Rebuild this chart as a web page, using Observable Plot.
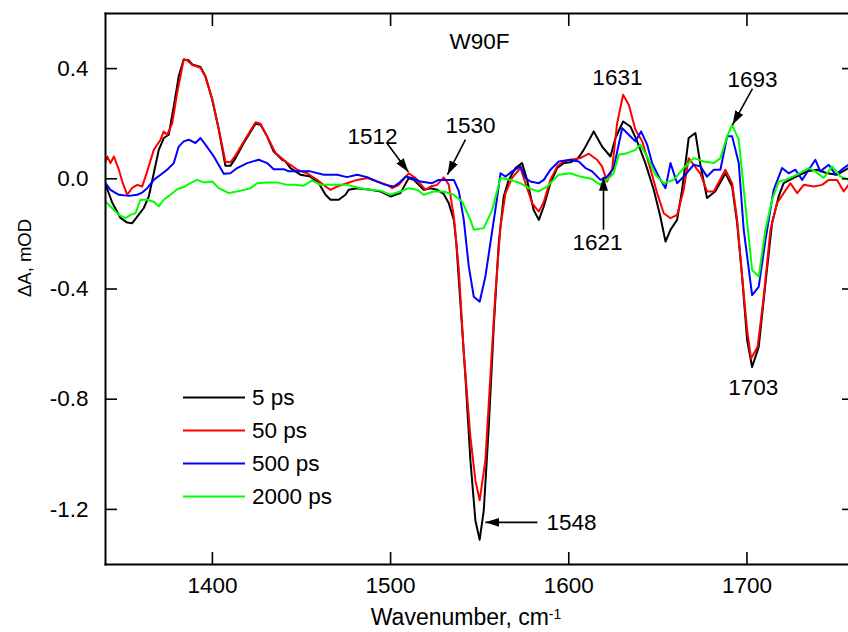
<!DOCTYPE html>
<html><head><meta charset="utf-8">
<script src="https://cdn.jsdelivr.net/npm/d3@7"></script>
<script src="https://cdn.jsdelivr.net/npm/@observablehq/plot@0.6"></script>
<style>
body{margin:0;background:#fff;overflow:hidden}
#wrap{position:relative;width:848px;height:632px;font-family:"Liberation Sans",Arial,sans-serif}
#legend{position:absolute;left:183px;top:381px}
</style></head><body><div id="wrap"></div>
<script>
// ---- data (wavenumber cm-1, ΔA mOD) ----
const ps5 = [[1340,-0.02],[1343.8,-0.087],[1348.4,-0.142],[1352.2,-0.159],[1355,-0.161],[1357.8,-0.137],[1361.5,-0.106],[1364.3,-0.064],[1367.1,0.02],[1369.9,0.105],[1372.7,0.148],[1375.5,0.16],[1378.3,0.263],[1381.1,0.372],[1383.9,0.433],[1386.7,0.43],[1388.7,0.415],[1393.3,0.406],[1396.1,0.372],[1399.9,0.287],[1403.6,0.178],[1407.3,0.047],[1410.1,0.047],[1413,0.075],[1417.6,0.13],[1424.2,0.2],[1427,0.196],[1430.7,0.154],[1434.4,0.099],[1439.2,0.069],[1441,0.063],[1443.8,0.039],[1449.4,0.015],[1455,0.008],[1459.7,-0.016],[1463.5,-0.058],[1466.3,-0.076],[1470.9,-0.076],[1474.7,-0.058],[1476.5,-0.04],[1481.2,-0.034],[1488.7,-0.04],[1494.3,-0.046],[1499.9,-0.064],[1505.5,-0.052],[1510.2,0.003],[1513,-0.004],[1518.6,-0.04],[1522.4,-0.034],[1526.1,-0.04],[1529.8,-0.055],[1532.6,-0.088],[1535.5,-0.149],[1536.9,-0.234],[1539.2,-0.452],[1542,-0.719],[1544.8,-1.022],[1547.6,-1.24],[1550,-1.31],[1552.3,-1.204],[1555.1,-0.9],[1557.9,-0.537],[1560.7,-0.234],[1563.5,-0.064],[1566.3,-0.004],[1570.1,0.039],[1573.8,0.057],[1576.6,-0.004],[1580.3,-0.113],[1583.2,-0.149],[1586,-0.1],[1589.7,-0.016],[1593.5,0.039],[1597.2,0.057],[1601,0.06],[1605.3,0.075],[1608.4,0.105],[1614,0.172],[1618.7,0.117],[1623.4,0.081],[1626.2,0.148],[1630.5,0.208],[1634.6,0.19],[1638.4,0.136],[1643,0.057],[1647.7,-0.04],[1651.4,-0.137],[1654.3,-0.228],[1657.1,-0.185],[1660.8,-0.149],[1663.6,-0.04],[1667.3,0.148],[1671.1,0.166],[1673.9,0.05],[1677.6,-0.07],[1682.3,-0.045],[1687.9,0.02],[1691.7,-0.028],[1694.5,-0.161],[1697.3,-0.355],[1700.1,-0.585],[1702.9,-0.683],[1706.6,-0.61],[1710.4,-0.379],[1714.1,-0.161],[1717.8,-0.064],[1720.6,-0.016],[1726.2,0.003],[1733.8,0.027],[1739.4,0.033],[1745,0.02],[1750.6,0.015],[1757,0.039]];

const ps50 = [[1340,0.063],[1341,0.081],[1342.8,0.057],[1344.7,0.081],[1347.5,0.033],[1349.4,-0.01],[1352.2,-0.058],[1355,-0.033],[1357.8,-0.022],[1360.6,-0.028],[1363.4,0.027],[1367.1,0.105],[1370.9,0.142],[1372.7,0.172],[1374.6,0.16],[1377.4,0.2],[1380.2,0.31],[1383.9,0.433],[1385.8,0.43],[1388.7,0.413],[1393.3,0.403],[1396.1,0.37],[1399.9,0.29],[1403.6,0.18],[1407.3,0.062],[1410.1,0.06],[1413,0.085],[1417.6,0.135],[1424.2,0.205],[1427,0.2],[1430.7,0.155],[1435.4,0.094],[1442,0.058],[1443.8,0.051],[1447.6,0.033],[1453.2,0.02],[1458.8,-0.004],[1463.5,-0.028],[1466.3,-0.04],[1470,-0.028],[1475.6,-0.016],[1481.2,-0.004],[1486.9,0.003],[1492.5,-0.01],[1498.1,-0.022],[1500.9,-0.034],[1504.6,-0.022],[1510.2,0.02],[1514,0.003],[1519.6,-0.04],[1522.4,-0.028],[1526.1,-0.022],[1529.8,0.005],[1532.6,-0.02],[1535.5,-0.137],[1538.3,-0.33],[1541.1,-0.634],[1544.8,-0.937],[1547.6,-1.095],[1550,-1.167],[1553.2,-1.022],[1556,-0.719],[1558.8,-0.416],[1561.7,-0.173],[1564.5,-0.052],[1568.2,0.003],[1572.9,0.039],[1575.7,-0.016],[1579.4,-0.088],[1583.2,-0.119],[1586,-0.083],[1589.7,-0.004],[1593.5,0.045],[1597.2,0.063],[1600.9,0.069],[1606.5,0.075],[1611.2,0.091],[1615.9,0.069],[1618.7,0.045],[1621.5,-0.01],[1624.3,0.033],[1627.1,0.2],[1630.5,0.305],[1633.7,0.269],[1637.4,0.178],[1641.2,0.136],[1644.9,0.057],[1649.6,-0.052],[1653.3,-0.125],[1657.1,-0.143],[1660.8,-0.131],[1664.5,-0.04],[1667.3,0.075],[1670.1,0.051],[1673.9,0.018],[1677.6,-0.046],[1681.4,-0.046],[1687.9,0.033],[1691.7,-0.016],[1694.5,-0.149],[1697.3,-0.355],[1700.1,-0.549],[1702.3,-0.652],[1706,-0.61],[1709.4,-0.428],[1713.2,-0.185],[1716.9,-0.088],[1720.6,-0.052],[1724.4,-0.016],[1728.2,-0.052],[1731.9,-0.022],[1737.5,-0.028],[1742.2,-0.022],[1745.9,-0.004],[1750.6,-0.004],[1754.3,-0.046],[1757,-0.022]];

const ps500 = [[1340,-0.016],[1342.8,-0.04],[1347.5,-0.058],[1353.1,-0.062],[1357.8,-0.058],[1360.6,-0.05],[1363.4,-0.034],[1367.1,-0.004],[1370.9,0.015],[1374.6,0.033],[1378.3,0.057],[1381.1,0.117],[1383.9,0.136],[1386.7,0.142],[1390.5,0.13],[1393.3,0.148],[1396.1,0.124],[1400.8,0.081],[1406.4,0.018],[1410.1,0.02],[1413.9,0.039],[1419.5,0.057],[1426,0.069],[1430.7,0.057],[1434.4,0.035],[1440,0.035],[1442.9,0.027],[1445.7,0.027],[1455,0.027],[1462.5,0.015],[1470,0.015],[1475.6,0.006],[1481.2,0.015],[1486.9,0.006],[1492.5,-0.01],[1497.1,-0.022],[1501.8,-0.028],[1504.6,-0.016],[1508.4,0.008],[1512.1,0.003],[1516.8,-0.01],[1523.3,-0.016],[1527,-0.004],[1530.8,-0.004],[1535.5,-0.004],[1538.3,-0.045],[1541.1,-0.15],[1543.9,-0.319],[1546.7,-0.428],[1550,-0.446],[1553.2,-0.355],[1556,-0.234],[1558.8,-0.113],[1561.7,0.02],[1564.5,0.008],[1568.2,0.027],[1572.9,0.045],[1575.7,0.003],[1578.5,-0.01],[1583.2,-0.016],[1586,-0.004],[1589.7,0.033],[1594.4,0.063],[1600.9,0.069],[1605.6,0.063],[1609.4,0.039],[1613.1,0.027],[1617.8,-0.004],[1621.5,0.008],[1625.2,0.039],[1630,0.184],[1633.7,0.16],[1637.4,0.136],[1640.6,0.172],[1644,0.124],[1646.8,0.057],[1650.5,0.008],[1654.3,-0.034],[1657.1,0.057],[1660.8,-0.016],[1664.5,0.008],[1670.1,0.051],[1673.9,0.045],[1677.6,0.008],[1681.4,0.033],[1685.1,0.033],[1688.9,0.154],[1691.7,0.154],[1695.4,0.057],[1698.2,-0.185],[1702.9,-0.422],[1706.6,-0.392],[1710.4,-0.222],[1715,-0.04],[1719.7,0.039],[1723.4,0.02],[1727.2,0.033],[1731,-0.004],[1734.7,0.033],[1738.4,0.069],[1741.2,0.027],[1745.9,0.051],[1749.7,0.015],[1754.3,0.039],[1757,0.051]];

const ps2000 = [[1340,-0.083],[1343.8,-0.107],[1347.5,-0.131],[1351.2,-0.143],[1354,-0.131],[1356.8,-0.125],[1359.6,-0.076],[1363.4,-0.076],[1367.1,-0.083],[1369.9,-0.1],[1372.7,-0.076],[1376.5,-0.058],[1380.2,-0.038],[1383.9,-0.03],[1387.6,-0.016],[1391.5,-0.004],[1395.2,-0.013],[1399.9,-0.01],[1403.6,-0.034],[1409.2,-0.052],[1415.8,-0.043],[1421.4,-0.034],[1425.1,-0.016],[1430.7,-0.013],[1436.4,-0.013],[1442,-0.022],[1445.7,-0.022],[1451.3,-0.025],[1456,-0.006],[1460.7,-0.022],[1468.1,-0.022],[1475.6,-0.022],[1483.1,-0.034],[1488.7,-0.04],[1494.3,-0.043],[1499.9,-0.058],[1505.5,-0.046],[1510.2,-0.034],[1514.9,-0.04],[1518.6,-0.058],[1524.2,-0.046],[1529.8,-0.046],[1535.5,-0.058],[1540.2,-0.083],[1544.8,-0.149],[1546.7,-0.185],[1552.3,-0.179],[1557,-0.113],[1561.7,0.003],[1567.3,-0.004],[1572.9,-0.016],[1577.5,-0.034],[1583.2,-0.046],[1587.9,-0.028],[1594.4,0.015],[1600.9,0.02],[1606.5,0.008],[1613.1,-0.001],[1617.8,-0.022],[1621.5,-0.004],[1625.2,0.02],[1628,0.087],[1632.7,0.093],[1637.4,0.105],[1640.2,0.124],[1644,0.081],[1648.6,0.015],[1653.3,-0.016],[1658.9,-0.004],[1664.5,0.039],[1670.1,0.075],[1675.8,0.063],[1681.4,0.057],[1685.1,0.075],[1688.9,0.154],[1691.7,0.196],[1695.4,0.142],[1699.2,-0.1],[1702.9,-0.331],[1706.6,-0.355],[1710.4,-0.185],[1714.1,-0.076],[1717.8,-0.01],[1721.6,-0.004],[1728.2,0.015],[1734.7,0.039],[1738.4,0.027],[1743.1,0.003],[1747.8,0.045],[1752.5,0.008],[1757,-0.004]];

const seriesNames = ["5 ps", "50 ps", "500 ps", "2000 ps"];
const seriesColors = ["#000000", "#ff0000", "#0000ff", "#00ff00"];
const seriesData = [ps5, ps50, ps500, ps2000];

const xTicks = [1400, 1500, 1600, 1700];
const yTicks = [0.4, 0.0, -0.4, -0.8, -1.2];

const xTitle = "Wavenumber, cm-1";
const yTitle = "ΔA, mOD";

const peakLabels = [
  {label: "W90F", wn: 1549.9, dA: 0.498},
  {label: "1512", wn: 1489.8, dA: 0.153},
  {label: "1530", wn: 1544.8, dA: 0.193},
  {label: "1631", wn: 1627.3, dA: 0.367},
  {label: "1693", wn: 1703.1, dA: 0.36},
  {label: "1621", wn: 1616.1, dA: -0.233},
  {label: "1548", wn: 1601.5, dA: -1.247},
  {label: "1703", wn: 1703.6, dA: -0.76}
];
const peakArrows = [
  {wn1: 1498.2, dA1: 0.127, wn2: 1510, dA2: 0.025},
  {wn1: 1542, dA1: 0.142, wn2: 1531.9, dA2: 0.015},
  {wn1: 1703.1, dA1: 0.327, wn2: 1691.9, dA2: 0.196},
  {wn1: 1619.5, dA1: -0.185, wn2: 1619.5, dA2: 0.007},
  {wn1: 1582.4, dA1: -1.247, wn2: 1553.2, dA2: -1.247}
];

// ---- build ----
const rows = seriesNames.flatMap((name, i) => seriesData[i].map(([wn, dA]) => ({series: name, wn, dA})));

function filledArrow(color) {
  const ns = "http://www.w3.org/2000/svg";
  const m = document.createElementNS(ns, "marker");
  m.setAttribute("viewBox", "-14 -6 14 12");
  m.setAttribute("markerWidth", "14");
  m.setAttribute("markerHeight", "12");
  m.setAttribute("markerUnits", "userSpaceOnUse");
  m.setAttribute("orient", "auto");
  m.setAttribute("refX", "0");
  m.setAttribute("refY", "0");
  const p = document.createElementNS(ns, "path");
  p.setAttribute("d", "M-14,-4.5L0,0L-14,4.5Z");
  p.setAttribute("fill", color);
  p.setAttribute("stroke", "none");
  m.appendChild(p);
  return m;
}

const FS = 22.5;
const chart = Plot.plot({
  width: 848,
  height: 632,
  marginLeft: 105,
  marginRight: 0,
  marginTop: 13,
  marginBottom: 68,
  style: {fontFamily: "'Liberation Sans', Arial, sans-serif", fontSize: FS + "px", background: "#fff", color: "#000", overflow: "visible"},
  x: {domain: [1340, 1757]},
  y: {domain: [-1.4, 0.6]},
  color: {domain: seriesNames, range: seriesColors},
  marks: [
    Plot.line(rows, {x: "wn", y: "dA", z: "series", stroke: "series", strokeWidth: 2, clip: true}),
    Plot.link(peakArrows, {x1: "wn1", y1: "dA1", x2: "wn2", y2: "dA2", stroke: "#000", strokeWidth: 1.6, strokeLinecap: "butt", markerEnd: filledArrow}),
    Plot.text(peakLabels, {x: "wn", y: "dA", text: "label", fontSize: FS, fill: "#000"}),
    Plot.frame({anchor: "left", strokeWidth: 2}),
    Plot.frame({anchor: "top", strokeWidth: 2}),
    Plot.frame({anchor: "bottom", strokeWidth: 2}),
    Plot.axisX({anchor: "bottom", ticks: xTicks, tickSize: -12, tickPadding: 25, strokeWidth: 1.6, tickFormat: d => String(d), label: null, fontSize: FS}),
    Plot.axisX({anchor: "top", ticks: xTicks, tickSize: -12, strokeWidth: 1.6, tickFormat: () => "", label: null}),
    Plot.axisY({anchor: "left", ticks: yTicks, tickSize: -12, tickPadding: 29, strokeWidth: 1.6, tickFormat: d => d.toFixed(1), label: null, fontSize: FS}),
    Plot.axisY({anchor: "right", ticks: yTicks, tickSize: -7, strokeWidth: 1.6, tickFormat: () => "", label: null}),
    Plot.text([xTitle], {text: d => d, frameAnchor: "bottom", textAnchor: "middle", lineAnchor: "middle", dx: -11, dy: 53, fontSize: 23}),
    Plot.text([yTitle], {text: d => d, frameAnchor: "left", textAnchor: "middle", lineAnchor: "middle", rotate: -90, dx: -80, dy: -31, fontSize: 18.5})
  ]
});

document.getElementById("wrap").appendChild(chart);

// superscript on the x title
d3.select(chart).selectAll("text").filter(function() { return this.textContent === xTitle; }).each(function() {
  const t = d3.select(this);
  t.text(null);
  t.append("tspan").text("Wavenumber, cm");
  t.append("tspan").attr("dy", "-0.45em").attr("font-size", "14px").text("-1");
});

// legend
const leg = d3.select("#wrap").append("svg").attr("id", "legend").attr("width", 200).attr("height", 140)
  .style("font-family", "'Liberation Sans', Arial, sans-serif");
seriesNames.forEach((name, i) => {
  const y = 16.5 + i * 33;
  leg.append("line").attr("x1", 0).attr("x2", 62).attr("y1", y).attr("y2", y)
    .attr("stroke", seriesColors[i]).attr("stroke-width", 2);
  leg.append("text").attr("x", 69).attr("y", y).attr("dy", "0.35em").attr("font-size", FS).attr("fill", "#000").text(name);
});
</script></body></html>
